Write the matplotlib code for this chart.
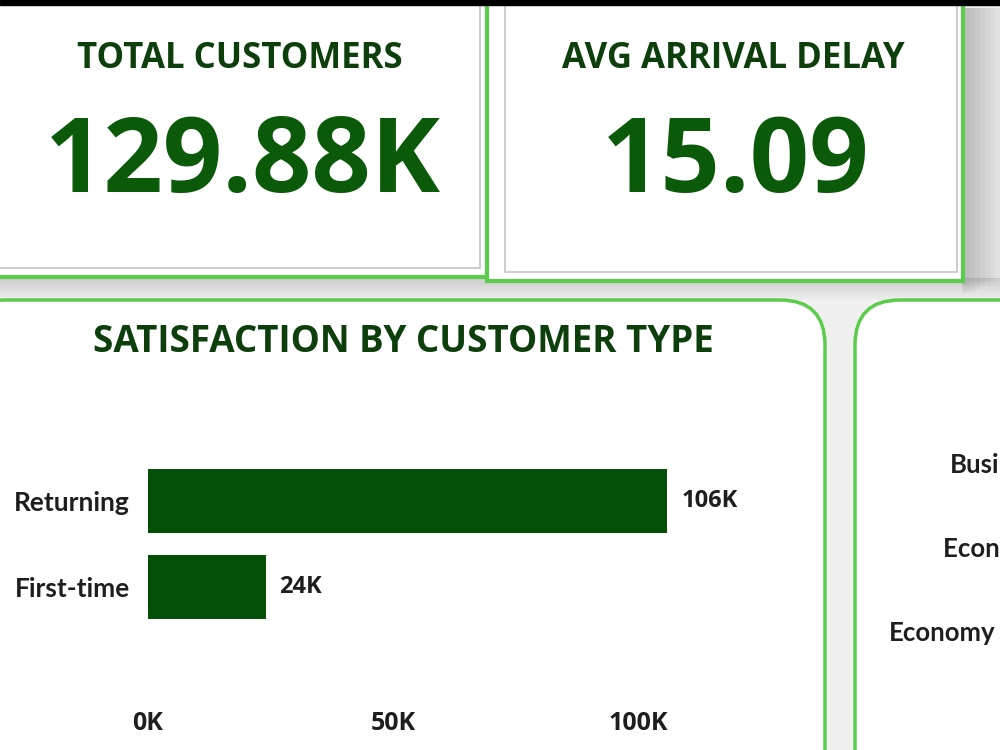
import matplotlib
matplotlib.use("Agg")
import matplotlib.pyplot as plt
from matplotlib.patches import Rectangle, FancyBboxPatch

# KPI cards
kpi_titles = ["TOTAL CUSTOMERS", "AVG ARRIVAL DELAY"]
kpi_values = ["129.88K", "15.09"]

# Satisfaction by customer type
customer_types = ["Returning", "First-time"]
satisfied = [106000, 24000]
value_labels = ["106K", "24K"]
x_ticks = [0, 50000, 100000]
x_tick_labels = ["0K", "50K", "100K"]

# right-hand panel (cut off by the photo edge)
class_labels = ["Business", "Economy Plus", "Economy"]

GREEN_EDGE = "#5ccc4c"
DARK_GREEN = "#0a5a0a"
TITLE_GREEN = "#0c3f0c"
BAR_GREEN = "#064f06"
LABEL = "#1e1e1e"

fig = plt.figure(figsize=(10, 7.5), dpi=100, facecolor="#f0f0f0")
bg = fig.add_axes([0, 0, 1, 1])
bg.set_xlim(0, 1000)
bg.set_ylim(750, 0)
bg.axis("off")

# top black strip from the photo
bg.add_patch(Rectangle((0, 0), 1000, 5, color="black", zorder=5))

# soft shadows
for i in range(8):
    bg.add_patch(Rectangle((962, 8), 8 + i * 5, 285 - i * 2, color="#666666", alpha=0.05, lw=0))
    bg.add_patch(Rectangle((0, 278), 1000, 4 + i * 2.5, color="#777777", alpha=0.03, lw=0))

# KPI cards: green outer frame + grey inner card
cards = [
    {"outer": (-10, 490, 277), "inner": (-10, 480, 268)},
    {"outer": (487, 963, 281), "inner": (505, 957, 272)},
]
for c in cards:
    x0, x1, yb = c["outer"]
    bg.add_patch(Rectangle((x0, -10), x1 - x0, yb + 10, facecolor="white",
                           edgecolor=GREEN_EDGE, lw=3, zorder=1))
    x0, x1, yb = c["inner"]
    bg.add_patch(Rectangle((x0, -10), x1 - x0, yb + 10, facecolor="white",
                           edgecolor="#c4c4c4", lw=1.2, zorder=2))

kpi_pos = [(240, 243), (733, 736)]
for (tx, vx), title, val in zip(kpi_pos, kpi_titles, kpi_values):
    bg.text(tx, 59, title, ha="center", va="center", fontsize=25, fontweight="bold",
            color=TITLE_GREEN, family="Open Sans", zorder=3)
    bg.text(vx, 165, val, ha="center", va="center", fontsize=75, fontweight="bold",
            color=DARK_GREEN, family="Open Sans", zorder=3)

# bottom panels with rounded corners
bg.add_patch(FancyBboxPatch((-40, 300), 865, 500, boxstyle="round,pad=0,rounding_size=45",
                            facecolor="white", edgecolor=GREEN_EDGE, lw=2.5, zorder=1))
bg.add_patch(FancyBboxPatch((855, 300), 300, 500, boxstyle="round,pad=0,rounding_size=45",
                            facecolor="white", edgecolor=GREEN_EDGE, lw=2.5, zorder=1))

bg.text(403, 342, "SATISFACTION BY CUSTOMER TYPE", ha="center", va="center", fontsize=26.5,
        fontweight="bold", color=TITLE_GREEN, family="Open Sans", zorder=3)

for lbl, (lx, ly) in zip(class_labels, [(950, 465), (943, 549), (889, 633)]):
    bg.text(lx, ly, lbl, ha="left", va="center", fontsize=18.5, fontweight="bold",
            color=LABEL, family="Lato", zorder=3)

# bar chart
ax = fig.add_axes([0.148, 50 / 750, 0.539, 260 / 750])
ax.set_facecolor("none")
ypos = [1, 0]
bars = ax.barh(ypos, satisfied, height=0.744, color=BAR_GREEN)
ax.bar_label(bars, labels=value_labels, padding=10, fontsize=17, fontweight="bold",
             color=LABEL, family="Open Sans")
ax.set_xlim(0, 110000)
ax.set_ylim(-1.314, 1.709)
ax.set_yticks(ypos)
ax.set_yticklabels(customer_types, fontsize=19, fontweight="bold", color=LABEL,
                   family="Lato")
ax.set_xticks(x_ticks)
ax.set_xticklabels(x_tick_labels, fontsize=18, fontweight="bold", color=LABEL,
                   family="Open Sans")
ax.tick_params(length=0)
ax.tick_params(axis="y", pad=13)
ax.tick_params(axis="x", pad=8)
for s in ax.spines.values():
    s.set_visible(False)

fig.savefig("out.png", dpi=100, facecolor=fig.get_facecolor())
